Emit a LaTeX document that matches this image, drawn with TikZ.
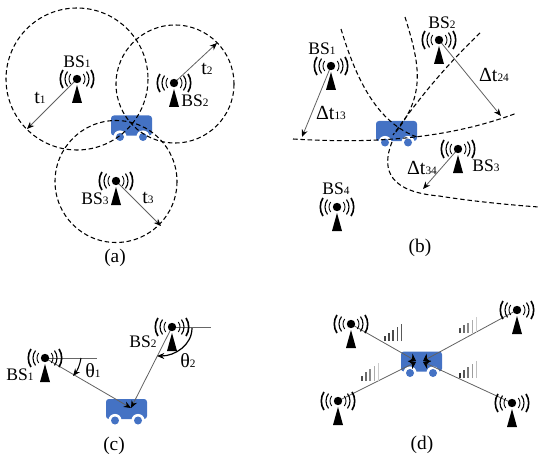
\documentclass[tikz,border=0pt]{standalone}
\usepackage{fontspec}
\setmainfont{Liberation Serif}
\usetikzlibrary{arrows.meta}
\definecolor{carblue}{HTML}{4472C4}
\newcommand{\dg}[1]{{\fontsize{8.5}{9}\selectfont #1}}
\tikzset{
  x=0.75pt,y=-0.75pt,
  lbl/.style={inner sep=0pt,font=\fontsize{13.2}{14}\selectfont},
  big/.style={inner sep=0pt,font=\fontsize{15}{16}\selectfont},
  captxt/.style={inner sep=0pt,font=\fontsize{14.5}{15}\selectfont},
  ring/.style={black,line width=0.8pt,dash pattern=on 3.4pt off 2.1pt},
  rng/.style={draw=black!62,line width=0.6pt,-{Stealth[black,length=5.5pt,width=4.5pt]}},
  flat/.style={draw=black!60,line width=0.6pt},
  pics/tower/.style={code={
    \fill[black] (0,0) circle[radius=4.2];
    \fill[black] (0,6) -- (-5,24) -- (5,24) -- cycle;
    \foreach \r/\a/\w in {8/38/0.65,12/38/0.85,16.7/33/1.2}{
      \draw[black,line width=\w pt] (\a:\r) arc[start angle=\a,end angle=-\a,radius=\r];
      \draw[black,line width=\w pt] (180-\a:\r) arc[start angle=180-\a,end angle=180+\a,radius=\r];
    }
  }},
  pics/car/.style={code={
    \fill[carblue,rounded corners=2.2pt] (-20.5,-10) rectangle (20.5,10);
    \fill[white] (-11.5,11.5) circle[radius=6.6] (11.5,11.5) circle[radius=6.6];
    \fill[carblue] (-11.5,11.5) circle[radius=4] (11.5,11.5) circle[radius=4];
  }},
}
\newcommand{\bars}[5]{% x, bottom, top, start shade, end shade
  \foreach \i in {0,1,2,3,4}{
    \pgfmathsetmacro{\bx}{#1+\i*4.1}
    \pgfmathsetmacro{\by}{#3+(4-\i)*(#2-#3)*0.175}
    \pgfmathsetmacro{\bs}{#4+\i*(#5-#4)/4}
    \draw[black!\bs,line width=1.15pt] (\bx,#2) -- (\bx,\by);
  }}
\begin{document}
\begin{tikzpicture}
\useasboundingbox (0,0) rectangle (550,460);
% ---------- (a)
\coordinate (a1) at (77,79);
\coordinate (a2) at (174,83);
\coordinate (a3) at (116,181);
\coordinate (acar) at (131.5,125.5);
\coordinate (a1e) at (27,129);
\coordinate (a2e) at (217,43);
\coordinate (a3e) at (161,226);
\pic at (acar) {car};
\draw[ring] (77,79) circle[radius=71];
\draw[ring] (175,84) circle[radius=59];
\draw[ring] (116,181.5) circle[radius=61];
\draw[rng] (a1) -- (a1e);
\draw[rng] (a2) -- (a2e);
\draw[rng] (a3) -- (a3e);
\pic at (a1) {tower};
\pic at (a2) {tower};
\pic at (a3) {tower};
\node[lbl] (la1) at (77,62) {BS\dg{1}};
\node[lbl] (la2) at (195,101) {BS\dg{2}};
\node[lbl] (la3) at (95,199) {BS\dg{3}};
\node[big] (ta1) at (40,98) {t\dg{1}};
\node[big] (ta2) at (207,69) {t\dg{2}};
\node[big] (ta3) at (148,198) {t\dg{3}};
\node[captxt] (capa) at (115,258) {(a)};
% ---------- (b)
\coordinate (b1) at (331,66);
\coordinate (b2) at (439,40);
\coordinate (b3) at (458,149);
\coordinate (b4) at (337,207);
\coordinate (bcar) at (396.5,131);
\coordinate (b1e) at (302,137);
\coordinate (b2e) at (501,116);
\coordinate (b3e) at (423,189);
\pic at (bcar) {car};
\draw[ring] (341,29) .. controls (355,75) and (375,122) .. (417,137);
\draw[ring] (405,17) .. controls (420,65) and (426,95) .. (395,133);
\draw[ring] (480,33) .. controls (450,62) and (425,90) .. (393,135);
\draw[ring] (293,139) .. controls (360,143) and (440,142) .. (517,113);
\draw[ring] (392,142) .. controls (380,172) and (392,192) .. (439,196) .. controls (470,201) and (510,205) .. (539,207);
\draw[rng] (b1) -- (b1e);
\draw[rng] (b2) -- (b2e);
\draw[rng] (b3) -- (b3e);
\pic at (b1) {tower};
\pic at (b2) {tower};
\pic at (b3) {tower};
\pic at (b4) {tower};
\node[lbl] (lb1) at (322,49) {BS\dg{1}};
\node[lbl] (lb2) at (442,23) {BS\dg{2}};
\node[lbl] (lb3) at (486,166) {BS\dg{3}};
\node[lbl] (lb4) at (336,189) {BS\dg{4}};
\node[big] (tb1) at (331,113) {Δt\dg{13}};
\node[big] (tb2) at (494,75) {Δt\dg{24}};
\node[big] (tb3) at (422,168) {Δt\dg{34}};
\node[captxt] (capb) at (420,248) {(b)};
% ---------- (c)
\coordinate (c1) at (45,358);
\coordinate (c2) at (172,327);
\coordinate (ccar) at (126.5,409);
\coordinate (ctip) at (131,408);
\coordinate (c1h) at (97,358);
\coordinate (c2h) at (211,327);
\coordinate (c1a) at (81,358);
\coordinate (c1b) at (73,376);
\coordinate (c2a) at (192,328);
\coordinate (c2b) at (157,356);
\pic at (ccar) {car};
\draw[flat] (c1) -- (c1h);
\draw[flat] (c2) -- (c2h);
\draw[rng] (c1) -- (ctip);
\draw[rng] (c2) -- (ctip);
\draw[black,line width=0.8pt,-{Stealth[length=5.5pt,width=4.5pt]}] (c1a) .. controls (80,365) and (77,371) .. (c1b);
\draw[black,line width=0.9pt,-{Stealth[length=5.5pt,width=4.5pt]}] (c2a) .. controls (192,345) and (175,356) .. (c2b);
\pic at (c1) {tower};
\pic at (c2) {tower};
\node[lbl] (lc1) at (20,375) {BS\dg{1}};
\node[lbl] (lc2) at (143,342) {BS\dg{2}};
\node[big] (tc1) at (93,371) {θ\dg{1}};
\node[big] (tc2) at (188,361) {θ\dg{2}};
\node[captxt] (capc) at (114,446) {(c)};
% ---------- (d)
\coordinate (d1) at (351,324);
\coordinate (d2) at (517,310);
\coordinate (d3) at (338,401);
\coordinate (d4) at (512,403);
\coordinate (dcar) at (421.5,361.5);
\coordinate (d1e) at (416,361);
\coordinate (d2e) at (423,361);
\coordinate (d3e) at (416,362);
\coordinate (d4e) at (423,362);
\pic at (dcar) {car};
\tikzset{rngd/.style={draw=black!62,line width=0.6pt,-{Stealth[black,length=5pt,width=7pt]}}}
\draw[rngd] (d1) -- (d1e);
\draw[rngd] (d2) -- (d2e);
\draw[rngd] (d3) -- (d3e);
\draw[rngd] (d4) -- (d4e);
\pic at (d1) {tower};
\pic at (d2) {tower};
\pic at (d3) {tower};
\pic at (d4) {tower};
\bars{385}{341}{324}{75}{65}
\bars{460}{333}{317}{70}{20}
\bars{362}{381}{363}{70}{20}
\bars{460}{378}{361}{80}{25}
\node[captxt] (capd) at (422,445) {(d)};
\end{tikzpicture}
\end{document}
